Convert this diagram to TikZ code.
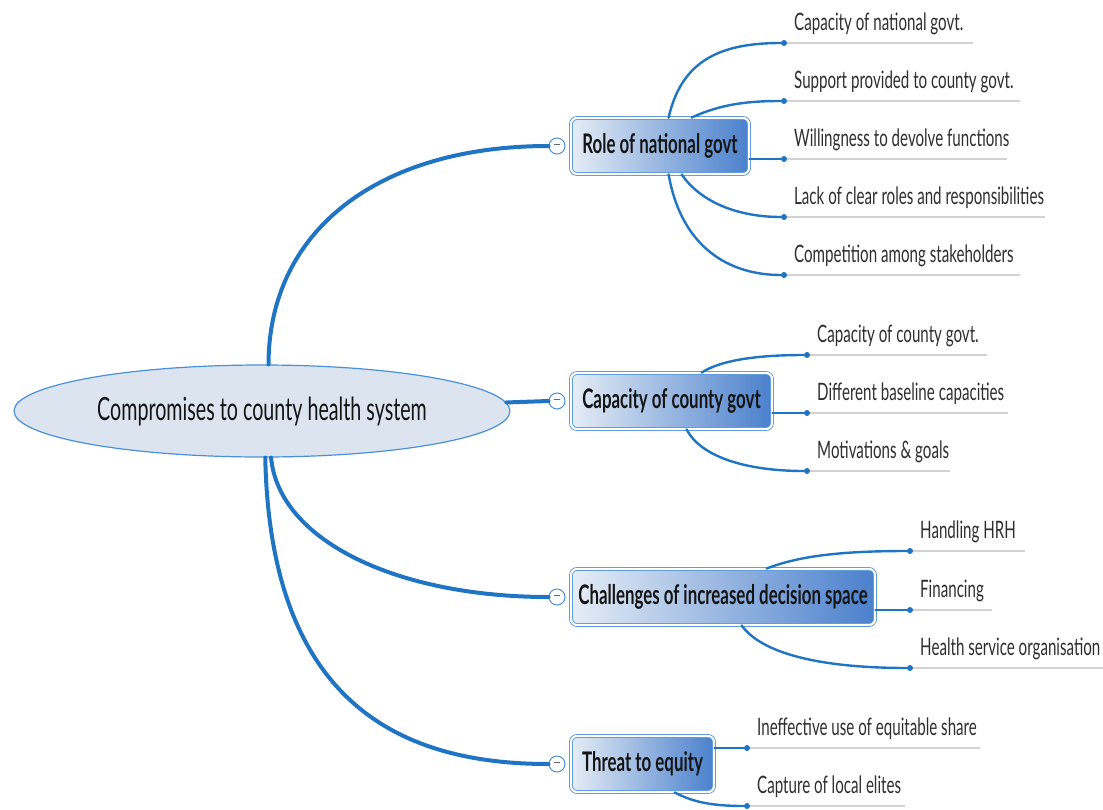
\documentclass[tikz,border=0pt]{standalone}
\usepackage{fontspec}
\usetikzlibrary{shapes.geometric,calc}
\setmainfont{Lato}
\newfontfamily\leaffont[FakeStretch=0.63]{Lato}
\newfontfamily\topicfont[FakeStretch=0.625]{Lato}
\newfontfamily\rootfont[FakeStretch=0.615]{Lato}
\definecolor{linkblue}{HTML}{1F74C4}
\definecolor{edgeblue}{HTML}{4A90D9}
\definecolor{boxlight}{HTML}{E6EDF6}
\definecolor{boxdark}{HTML}{4A80CC}
\definecolor{rootfill}{HTML}{DCE4F0}
\definecolor{leafgrey}{HTML}{2E2E2E}
\definecolor{rulegrey}{HTML}{D2D2D2}
\begin{document}
\begin{tikzpicture}[x=1pt,y=-1pt,
  link/.style={draw=linkblue, line width=4pt, line cap=round},
  twig/.style={draw=linkblue, line width=2.4pt, line cap=round},
  underline/.style={draw=rulegrey, line width=1.8pt},
  topic/.style={rounded corners=6pt, draw=edgeblue, line width=0.8pt,
    double=white, double distance=2.2pt, left color=boxlight, right color=boxdark,
    minimum height=56pt, inner sep=0pt, text=black!92,
    font=\topicfont\bfseries\fontsize{27}{30}\selectfont},
  toggle/.style={circle, draw=edgeblue, fill=white, line width=1pt,
    minimum size=16pt, inner sep=0pt},
  dot/.style={circle, fill=linkblue, inner sep=0pt, minimum size=6pt},
  leaf/.style={anchor=base west, inner sep=0pt, text=leafgrey,
    font=\leaffont\fontsize{24}{27}\selectfont},
]
\useasboundingbox (0,0) rectangle (1103,809);

% central topic
\node[ellipse, draw=edgeblue, line width=1.2pt, fill=rootfill,
  minimum width=496pt, minimum height=92pt, inner sep=0pt, text=black!92,
  font=\rootfont\fontsize{32}{36}\selectfont] (root) at (262,411)
  {Compromises to county health system};

% main topics
\node[topic, minimum width=178pt] (b1) at (660,146) {Role of national govt};
\node[topic, minimum width=201pt] (b2) at (671.5,401) {Capacity of county govt};
\node[topic, minimum width=304pt] (b3) at (723,597) {Challenges of increased decision space};
\node[topic, minimum width=143pt] (b4) at (642.5,764) {Threat to equity};

% collapse toggles
\foreach \i/\y in {1/146,2/401,3/597,4/764}{
  \node[toggle] (c\i) at (557,\y) {\textcolor{black!60}{\rule[2.6pt]{6pt}{1pt}}};
}

% main links
\draw[link] (root.82) .. controls +(0,-134) and +(-170,0) .. (c1.west);
\draw[link] (root.2.5) -- (c2.west);
\draw[link] (root.-79) .. controls +(8,84) and +(-150,0) .. (c3.west);
\draw[link] (root.-86) .. controls +(5,244) and +(-150,0) .. (c4.west);

% leaf dots and underlines
\foreach \n/\x/\y/\len in {
  11/784/43/189, 12/784/101/236, 13/784/159/223, 14/784/217/261, 15/784/275/236,
  21/807/355/180, 22/807/413/201, 23/807/471/143,
  31/910/551/115, 32/910/610/82, 33/910/668/193,
  41/747/748/233, 42/747/806/158}{
  \draw[underline] (\x,\y) -- ++(\len,0);
  \node[dot] (d\n) at (\x,\y) {};
}

% leaf texts
\node[leaf] (t11) at ($(d11)+(10,-13)$) {Capacity of national govt.};
\node[leaf] (t12) at ($(d12)+(10,-13)$) {Support provided to county govt.};
\node[leaf] (t13) at ($(d13)+(10,-13)$) {Willingness to devolve functions};
\node[leaf] (t14) at ($(d14)+(10,-13)$) {Lack of clear roles and responsibilities};
\node[leaf] (t15) at ($(d15)+(10,-13)$) {Competition among stakeholders};
\node[leaf] (t21) at ($(d21)+(10,-13)$) {Capacity of county govt.};
\node[leaf] (t22) at ($(d22)+(10,-13)$) {Different baseline capacities};
\node[leaf] (t23) at ($(d23)+(10,-13)$) {Motivations \& goals};
\node[leaf] (t31) at ($(d31)+(10,-13)$) {Handling HRH};
\node[leaf] (t32) at ($(d32)+(10,-13)$) {Financing};
\node[leaf] (t33) at ($(d33)+(10,-13)$) {Health service organisation};
\node[leaf] (t41) at ($(d41)+(10,-13)$) {Ineffective use of equitable share};
\node[leaf] (t42) at ($(d42)+(10,-13)$) {Capture of local elites};

% twigs from topics to leaves
\draw[twig] ($(b1.north west)+(98,0)$) .. controls +(13,-57) and +(-64,0) .. (d11);
\draw[twig] ($(b1.north west)+(121,0)$) .. controls +(30,-14) and +(-34,0) .. (d12);
\draw[twig] (b1.east |- d13) -- (d13);
\draw[twig] ($(b1.south west)+(111,0)$) .. controls +(20,29) and +(-44,0) .. (d14);
\draw[twig] ($(b1.south west)+(98,0)$) .. controls +(13,74) and +(-54,0) .. (d15);

\draw[twig] ($(b2.north west)+(131,0)$) .. controls +(20,-13) and +(-47,0) .. (d21);
\draw[twig] (b2.east |- d22) -- (d22);
\draw[twig] ($(b2.south west)+(116,0)$) .. controls +(15,29) and +(-57,0) .. (d23);

\draw[twig] ($(b3.north west)+(196,0)$) .. controls +(35,-14) and +(-60,0) .. (d31);
\draw[twig] (b3.east |- d32) -- (d32);
\draw[twig] ($(b3.south west)+(171,0)$) .. controls +(20,28) and +(-90,0) .. (d33);

\draw[twig] (b4.east |- d41) -- (d41);
\draw[twig] ($(b4.south west)+(104,0)$) .. controls +(17,9) and +(-37,0) .. (d42);
\end{tikzpicture}
\end{document}
